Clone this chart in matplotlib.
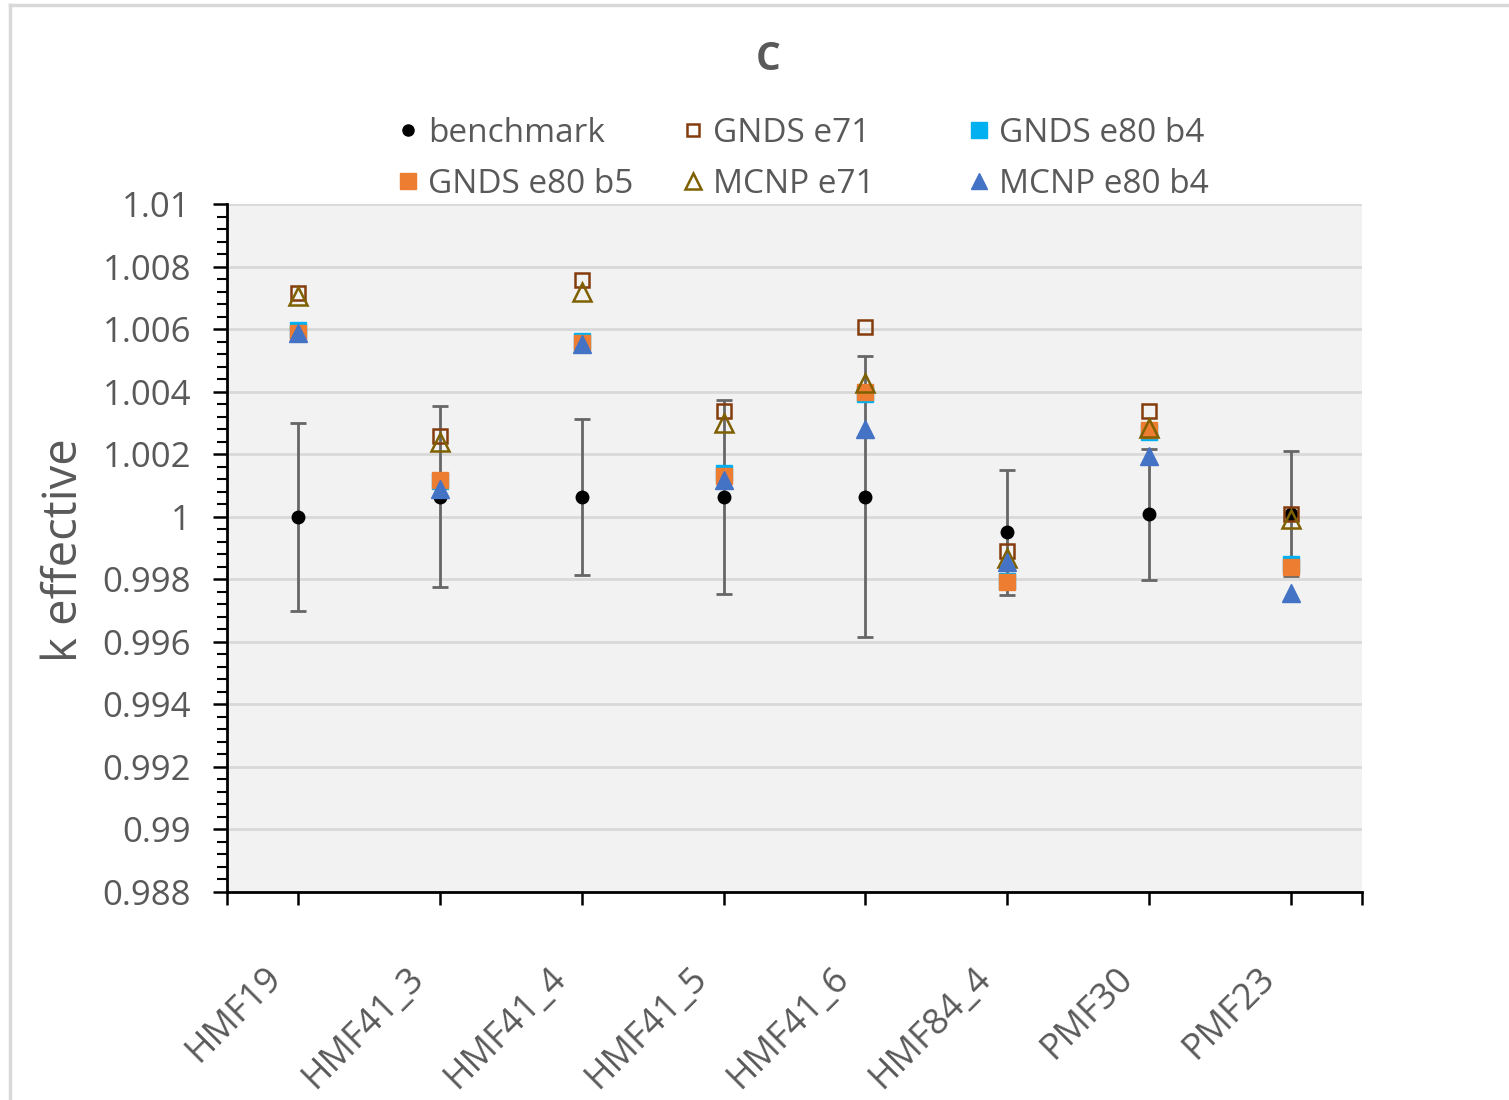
import matplotlib
matplotlib.use("Agg")
import matplotlib.pyplot as plt
import matplotlib.transforms as mtransforms
from matplotlib.ticker import MultipleLocator
from matplotlib.lines import Line2D

plt.rcParams["font.family"] = ["Open Sans", "DejaVu Sans"]

cases = ["HMF19", "HMF41_3", "HMF41_4", "HMF41_5", "HMF41_6", "HMF84_4", "PMF30", "PMF23"]

benchmark = [1.0000, 1.00064, 1.00064, 1.00064, 1.00064, 0.9995, 1.00008, 1.0001]
benchmark_unc = [0.0030, 0.0029, 0.0025, 0.0031, 0.0045, 0.0020, 0.0021, 0.0020]

gnds_e71 = [1.00714, 1.00259, 1.00757, 1.00338, 1.00608, 0.9989, 1.00338, 1.0001]
gnds_e80_b4 = [1.00596, 1.00114, 1.00562, 1.0014, 1.00392, 0.99794, 1.00272, 0.99848]
gnds_e80_b5 = [1.00588, 1.00119, 1.00556, 1.0013, 1.00400, 0.9979, 1.00277, 0.99839]
mcnp_e71 = [1.00706, 1.0024, 1.0072, 1.00299, 1.00427, 0.99867, 1.00283, 0.99992]
mcnp_e80_b4 = [1.00587, 1.00089, 1.00553, 1.00118, 1.0028, 0.99856, 1.00194, 0.99756]

text_grey = "#595959"
x = list(range(1, len(cases) + 1))

fig = plt.figure(figsize=(15.09, 11.0), dpi=100)
ax = fig.add_axes([227 / 1509, 1 - 892 / 1100, (1362 - 227) / 1509, (892 - 204) / 1100])
ax.set_facecolor("#F2F2F2")

# chart frame (top and left edges visible)
fig.add_artist(Line2D([10 / 1509, 10 / 1509], [0, 1 - 5 / 1100], color="#D9D9D9", lw=2.5))
fig.add_artist(Line2D([10 / 1509, 1], [1 - 5 / 1100, 1 - 5 / 1100], color="#D9D9D9", lw=2.5))

ax.errorbar(x, benchmark, yerr=benchmark_unc, fmt="o", color="black", ms=9,
            ecolor="#666666", elinewidth=2, capsize=6, capthick=2, zorder=3)
ax.plot(x, gnds_e71, "s", ms=10, mfc="none", mec="#843C0C", mew=1.8, zorder=4)
ax.plot(x, gnds_e80_b4, "s", ms=12, color="#00B0F0", zorder=5)
ax.plot(x, gnds_e80_b5, "s", ms=12, color="#ED7D31", zorder=6)
ax.plot(x, mcnp_e71, "^", ms=13, mfc="none", mec="#7F6000", mew=1.8, zorder=7)
ax.plot(x, mcnp_e80_b4, "^", ms=13, color="#4472C4", zorder=8)

ax.set_xlim(0.5, 8.5)
ax.set_ylim(0.988, 1.01)
ax.yaxis.set_minor_locator(MultipleLocator(0.0004))
ax.set_yticks([0.988 + 0.002 * i for i in range(12)])
ax.set_yticklabels(["0.988", "0.99", "0.992", "0.994", "0.996", "0.998", "1",
                    "1.002", "1.004", "1.006", "1.008", "1.01"])
ax.grid(axis="y", color="#D9D9D9", lw=2)
ax.set_axisbelow(True)

# category ticks, labels drawn as rotated text below each tick
ax.set_xticks([0.5] + x + [8.5])
ax.set_xticklabels([])
offset = mtransforms.ScaledTranslation(-0.34, -0.68, fig.dpi_scale_trans)
for xi, name in zip(x, cases):
    ax.text(xi, 0, name, transform=ax.get_xaxis_transform() + offset, rotation=45,
            rotation_mode="anchor", ha="right", va="top", fontsize=26, color=text_grey)

for side in ["top", "right"]:
    ax.spines[side].set_visible(False)
for side in ["left", "bottom"]:
    ax.spines[side].set_color("black")
    ax.spines[side].set_linewidth(2)

ax.tick_params(axis="y", which="major", length=10, width=1.8, labelsize=25,
               labelcolor=text_grey, pad=16)
ax.tick_params(axis="y", which="minor", length=7, width=1.5)
ax.tick_params(axis="x", length=9, width=1.8)

ax.set_ylabel("k effective", fontsize=34, color=text_grey)
ax.yaxis.set_label_coords(88 / 1509, 0.5, transform=fig.transFigure)
fig.text(768 / 1509, 1 - 60 / 1100, "C", fontsize=28, fontweight="bold",
         color=text_grey, ha="center", va="center")

# legend in three equal-width columns
columns = [
    (395, [(Line2D([], [], ls="none", marker="o", color="black", ms=8), "benchmark"),
           (Line2D([], [], ls="none", marker="s", color="#ED7D31", ms=11), "GNDS e80 b5")]),
    (680, [(Line2D([], [], ls="none", marker="s", mfc="none", mec="#843C0C", mew=1.8, ms=9), "GNDS e71"),
           (Line2D([], [], ls="none", marker="^", mfc="none", mec="#7F6000", mew=1.8, ms=11), "MCNP e71")]),
    (966, [(Line2D([], [], ls="none", marker="s", color="#00B0F0", ms=11), "GNDS e80 b4"),
           (Line2D([], [], ls="none", marker="^", color="#4472C4", ms=12), "MCNP e80 b4")]),
]
for x0, items in columns:
    fig.legend([h for h, _ in items], [l for _, l in items], loc="center left",
               bbox_to_anchor=(x0 / 1509, 1 - 159 / 1100), frameon=False,
               fontsize=24, labelcolor=text_grey, handletextpad=0.2,
               handlelength=0.8, labelspacing=0.55, borderpad=0, borderaxespad=0)

fig.savefig("out.png", dpi=100)
